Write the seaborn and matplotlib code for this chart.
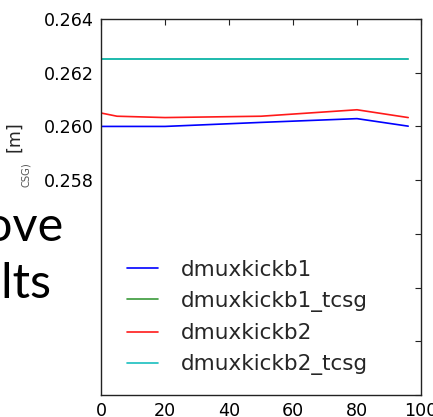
import matplotlib
matplotlib.use("Agg")
import matplotlib.pyplot as plt
import pandas as pd
import seaborn as sns

# Position along the element and horizontal offset for each kicker setting
positions = [0, 5, 20, 50, 80, 96]
dmuxkickb1 = [0.26000, 0.26000, 0.26000, 0.26015, 0.26029, 0.26001]
dmuxkickb1_tcsg = [0.2625, 0.2625, 0.2625, 0.2625, 0.2625, 0.2625]
dmuxkickb2 = [0.26050, 0.26038, 0.26033, 0.26038, 0.26062, 0.26033]
dmuxkickb2_tcsg = [0.2625, 0.2625, 0.2625, 0.2625, 0.2625, 0.2625]

series_names = ["dmuxkickb1", "dmuxkickb1_tcsg", "dmuxkickb2", "dmuxkickb2_tcsg"]
series_values = [dmuxkickb1, dmuxkickb1_tcsg, dmuxkickb2, dmuxkickb2_tcsg]
series_colors = ["#0000ff", "#3a9a3a", "#ff1a1a", "#19bfbf"]

x_ticks = [0, 20, 40, 60, 80, 100]
y_ticks = [0.250, 0.252, 0.254, 0.256, 0.258, 0.260, 0.262, 0.264]
y_tick_labels = ["", "", "", "", "0.258", "0.260", "0.262", "0.264"]

sns.set_theme(style="white")
plt.rcParams["font.family"] = ["DejaVu Sans"]

rows = []
for name, vals in zip(series_names, series_values):
    for s, v in zip(positions, vals):
        rows.append({"s": s, "value": v, "series": name})
df = pd.DataFrame(rows)

fig = plt.figure(figsize=(4.33, 4.17), dpi=100)
fig.patch.set_facecolor("white")
ax = fig.add_axes([101 / 433, 22 / 417, 320 / 433, 376 / 417])

sns.lineplot(
    data=df, x="s", y="value", hue="series",
    hue_order=series_names,
    palette=dict(zip(series_names, series_colors)),
    estimator=None, sort=False, linewidth=1.2, ax=ax,
)

ax.set_xlim(0, 100)
ax.set_ylim(0.250, 0.264)
ax.set_xticks(x_ticks)
ax.set_xticklabels([str(t) for t in x_ticks])
ax.set_yticks(y_ticks)
ax.set_yticklabels(y_tick_labels)
ax.set_xlabel("")
ax.set_ylabel("")
ax.tick_params(direction="in", top=True, right=True, length=4.5, width=0.8,
               labelsize=12.6, pad=5, colors="#222222", labelcolor="black")
for sp in ax.spines.values():
    sp.set_color("#222222")
    sp.set_linewidth(1.0)

handles, labels = ax.get_legend_handles_labels()
ax.legend(handles, labels, frameon=False, loc="center left",
          bbox_to_anchor=(0.081, 0.206), fontsize=15.5,
          handlelength=1.45, handletextpad=1.05, labelspacing=0.52,
          borderpad=0, borderaxespad=0)

# Axis label fragments beside the y axis
fig.text(14.5 / 433, 1 - 137 / 417, "[m]", rotation=90, ha="center",
         va="center", fontsize=12.6)
fig.text(26 / 433, 1 - 174.5 / 417, "CSG)", rotation=90, ha="center",
         va="center", fontsize=7.2, color="#555555")

# Slide text running in from the left
fig.text(63 / 433, 1 - 241 / 417, "ove", ha="right", va="baseline",
         fontsize=35, family=["Lato", "DejaVu Sans"], color="black")
fig.text(52 / 433, 1 - 298 / 417, "ults", ha="right", va="baseline",
         fontsize=35, family=["Lato", "DejaVu Sans"], color="black")

fig.savefig("out.png", dpi=100, facecolor="white")
